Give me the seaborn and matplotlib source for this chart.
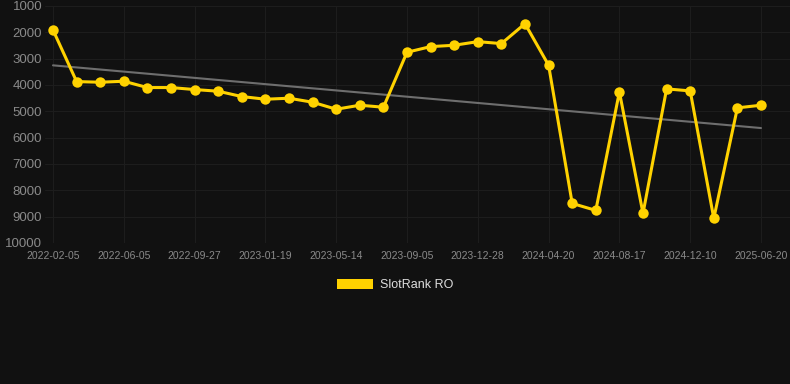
import numpy as np
import pandas as pd
import seaborn as sns
import matplotlib.pyplot as plt
from matplotlib.patches import Patch

# --- Data ---
dates = [
    "2022-02-05", "2022-03-15", "2022-04-25", "2022-06-05", "2022-07-10", "2022-08-20",
    "2022-09-27", "2022-11-05", "2022-12-12", "2023-01-19", "2023-02-28", "2023-04-05",
    "2023-05-14", "2023-06-20", "2023-07-28", "2023-09-05", "2023-10-15", "2023-11-20",
    "2023-12-28", "2024-02-05", "2024-03-12", "2024-04-20", "2024-05-30", "2024-07-08",
    "2024-08-17", "2024-09-25", "2024-11-01", "2024-12-10", "2025-02-20", "2025-04-30",
    "2025-06-20",
]
rank = [
    1910, 3870, 3895, 3857, 4097, 4097, 4173, 4236, 4439, 4540, 4502, 4654,
    4920, 4768, 4844, 2757, 2542, 2491, 2353, 2428, 1671, 3250, 8497, 8762,
    4261, 8876, 4148, 4224, 9066, 4868, 4768,
]
y_ticks = [1000, 2000, 3000, 4000, 5000, 6000, 7000, 8000, 9000, 10000]
series_name = "SlotRank RO"

df = pd.DataFrame({"date": dates, "rank": rank})
df["idx"] = np.arange(len(df))

# --- Style ---
bg = "#111111"
gold = "#FFD200"
sns.set_theme(style="dark")
plt.rcParams["font.family"] = ["Liberation Sans", "DejaVu Sans"]

fig = plt.figure(figsize=(7.9, 3.84), dpi=100, facecolor=bg)
ax = fig.add_axes([45 / 790, 141 / 384, 745 / 790, 237 / 384])
ax.set_facecolor(bg)

# trend line
sns.regplot(data=df, x="idx", y="rank", scatter=False, ci=None, ax=ax,
            line_kws={"color": "#6e6e6e", "linewidth": 1.5}, truncate=True)

sns.lineplot(data=df, x="idx", y="rank", ax=ax, color=gold, linewidth=2.2,
             marker="o", markersize=7.5, markeredgewidth=0, clip_on=False)

ax.set_xlim(-8 / 23.6, 30 + 29 / 23.6)
ax.set_ylim(10000, 1000)
ax.set_yticks(y_ticks)
ax.set_yticklabels([str(v) for v in y_ticks])
tick_pos = list(range(0, len(dates), 3))
ax.set_xticks(tick_pos)
ax.set_xticklabels([dates[i] for i in tick_pos])

ax.grid(True, color="#1d1d1d", linewidth=0.8)
for s in ax.spines.values():
    s.set_visible(False)
ax.tick_params(axis="y", colors="#8a8a8a", labelsize=9.5, length=0, pad=2)
ax.tick_params(axis="x", colors="#8a8a8a", labelsize=7.5, length=0, pad=6)
ax.set_xlabel("")
ax.set_ylabel("")

fig.legend(handles=[Patch(facecolor=gold, edgecolor="none", label=series_name)],
           loc="center", bbox_to_anchor=(0.5, 1 - 285 / 384), frameon=False,
           labelcolor="#dddddd", fontsize=9, handlelength=2.9, handleheight=0.9,
           handletextpad=0.5)

plt.savefig("out.png", dpi=100, facecolor=bg)
plt.close()
